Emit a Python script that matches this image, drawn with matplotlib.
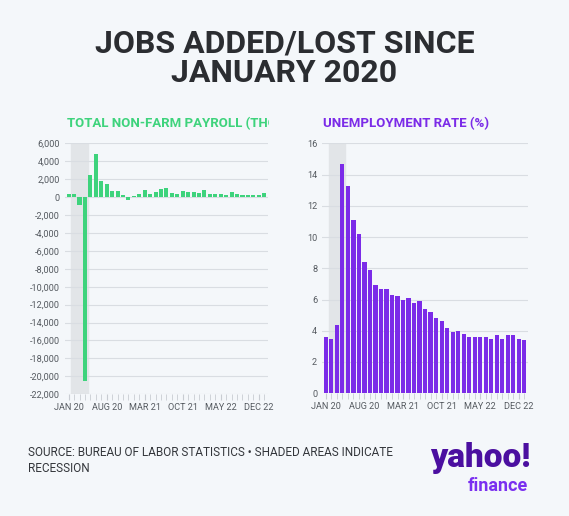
import matplotlib.pyplot as plt
from matplotlib.transforms import Bbox
import numpy as np

months = ['JAN 20', 'FEB 20', 'MAR 20', 'APR 20', 'MAY 20', 'JUN 20', 'JUL 20', 'AUG 20',
          'SEP 20', 'OCT 20', 'NOV 20', 'DEC 20', 'JAN 21', 'FEB 21', 'MAR 21', 'APR 21',
          'MAY 21', 'JUN 21', 'JUL 21', 'AUG 21', 'SEP 21', 'OCT 21', 'NOV 21', 'DEC 21',
          'JAN 22', 'FEB 22', 'MAR 22', 'APR 22', 'MAY 22', 'JUN 22', 'JUL 22', 'AUG 22',
          'SEP 22', 'OCT 22', 'NOV 22', 'DEC 22', 'JAN 23']
payroll = [300, 300, -900, -20500, 2500, 4800, 1800, 1500, 700, 650, 250, -300,
           150, 400, 750, 300, 600, 950, 1050, 450, 350, 650, 600, 550,
           500, 750, 400, 350, 350, 250, 550, 300, 250, 250, 250, 200, 500]
unemployment = [3.6, 3.5, 4.4, 14.7, 13.3, 11.1, 10.2, 8.4, 7.9, 6.9, 6.7, 6.7,
                6.3, 6.2, 6.0, 6.1, 5.8, 5.9, 5.4, 5.2, 4.8, 4.6, 4.2, 3.9,
                4.0, 3.8, 3.6, 3.6, 3.6, 3.6, 3.5, 3.7, 3.5, 3.7, 3.7, 3.5, 3.4]
tick_idx = [0, 7, 14, 21, 28, 35]
recession = (0.5, 3.5)

bg = '#f4f7fa'
green = '#3ed37c'
purple = '#7b2be8'
grid = '#d9dde2'
tickc = '#555a60'
plt.rcParams['font.family'] = ['Roboto', 'DejaVu Sans']

fig = plt.figure(figsize=(5.69, 5.16), dpi=100, facecolor=bg)
ax1 = fig.add_axes([0.114, 0.236, 0.357, 0.486])
ax2 = fig.add_axes([0.566, 0.238, 0.362, 0.484])
x = np.arange(len(months))

for ax, vals, col in [(ax1, payroll, green), (ax2, unemployment, purple)]:
    ax.set_facecolor(bg)
    ax.axvspan(*recession, color='#e2e5e8', zorder=0)
    ax.bar(x, vals, width=0.75, color=col, zorder=3)
    ax.grid(axis='y', color=grid, linewidth=0.8, zorder=1)
    for s in ax.spines.values():
        s.set_visible(False)
    ax.set_xlim(-0.7, len(months) - 0.3)
    ax.set_xticks(x, minor=True)
    ax.set_xticks(tick_idx)
    ax.set_xticklabels([months[i] for i in tick_idx])
    ax.tick_params(axis='x', which='both', length=4, color='#c8ccd2', labelsize=6.6, labelcolor=tickc, pad=2)
    ax.tick_params(axis='y', length=0, labelsize=6.6, labelcolor=tickc)

ax1.set_ylim(-22000, 6000)
ax1.set_yticks(range(-22000, 6001, 2000))
ax1.set_yticklabels([f'{v:,}' for v in range(-22000, 6001, 2000)])
ax2.set_ylim(0, 16)
ax2.set_yticks(range(0, 17, 2))

fig.text(0.5, 0.915, 'JOBS ADDED/LOST SINCE', ha='center', va='center', fontsize=23,
         fontweight='bold', color='#2b2d31')
fig.text(0.5, 0.858, 'JANUARY 2020', ha='center', va='center', fontsize=23,
         fontweight='bold', color='#2b2d31')
t = fig.text(0.117, 0.76, 'TOTAL NON-FARM PAYROLL (THOUSANDS)', ha='left', va='center',
             fontsize=9.5, fontweight='bold', color=green)
t.set_clip_box(Bbox.from_extents(0, 0, 0.472 * 569, 516))
t.set_clip_on(True)
fig.text(0.567, 0.76, 'UNEMPLOYMENT RATE (%)', ha='left', va='center', fontsize=9.5,
         fontweight='bold', color=purple)
fig.text(0.05, 0.108, 'SOURCE: BUREAU OF LABOR STATISTICS \u2022 SHADED AREAS INDICATE\nRECESSION',
         ha='left', va='center', fontsize=8.5, color='#33363b', linespacing=1.3)
fig.text(0.845, 0.112, 'yahoo!', ha='center', va='center', fontsize=24, fontweight='heavy',
         color='#4b0fa0')
fig.text(0.875, 0.058, 'finance', ha='center', va='center', fontsize=13, fontweight='bold',
         color='#7a2ff0')

fig.savefig('out.png', dpi=100, facecolor=bg)
